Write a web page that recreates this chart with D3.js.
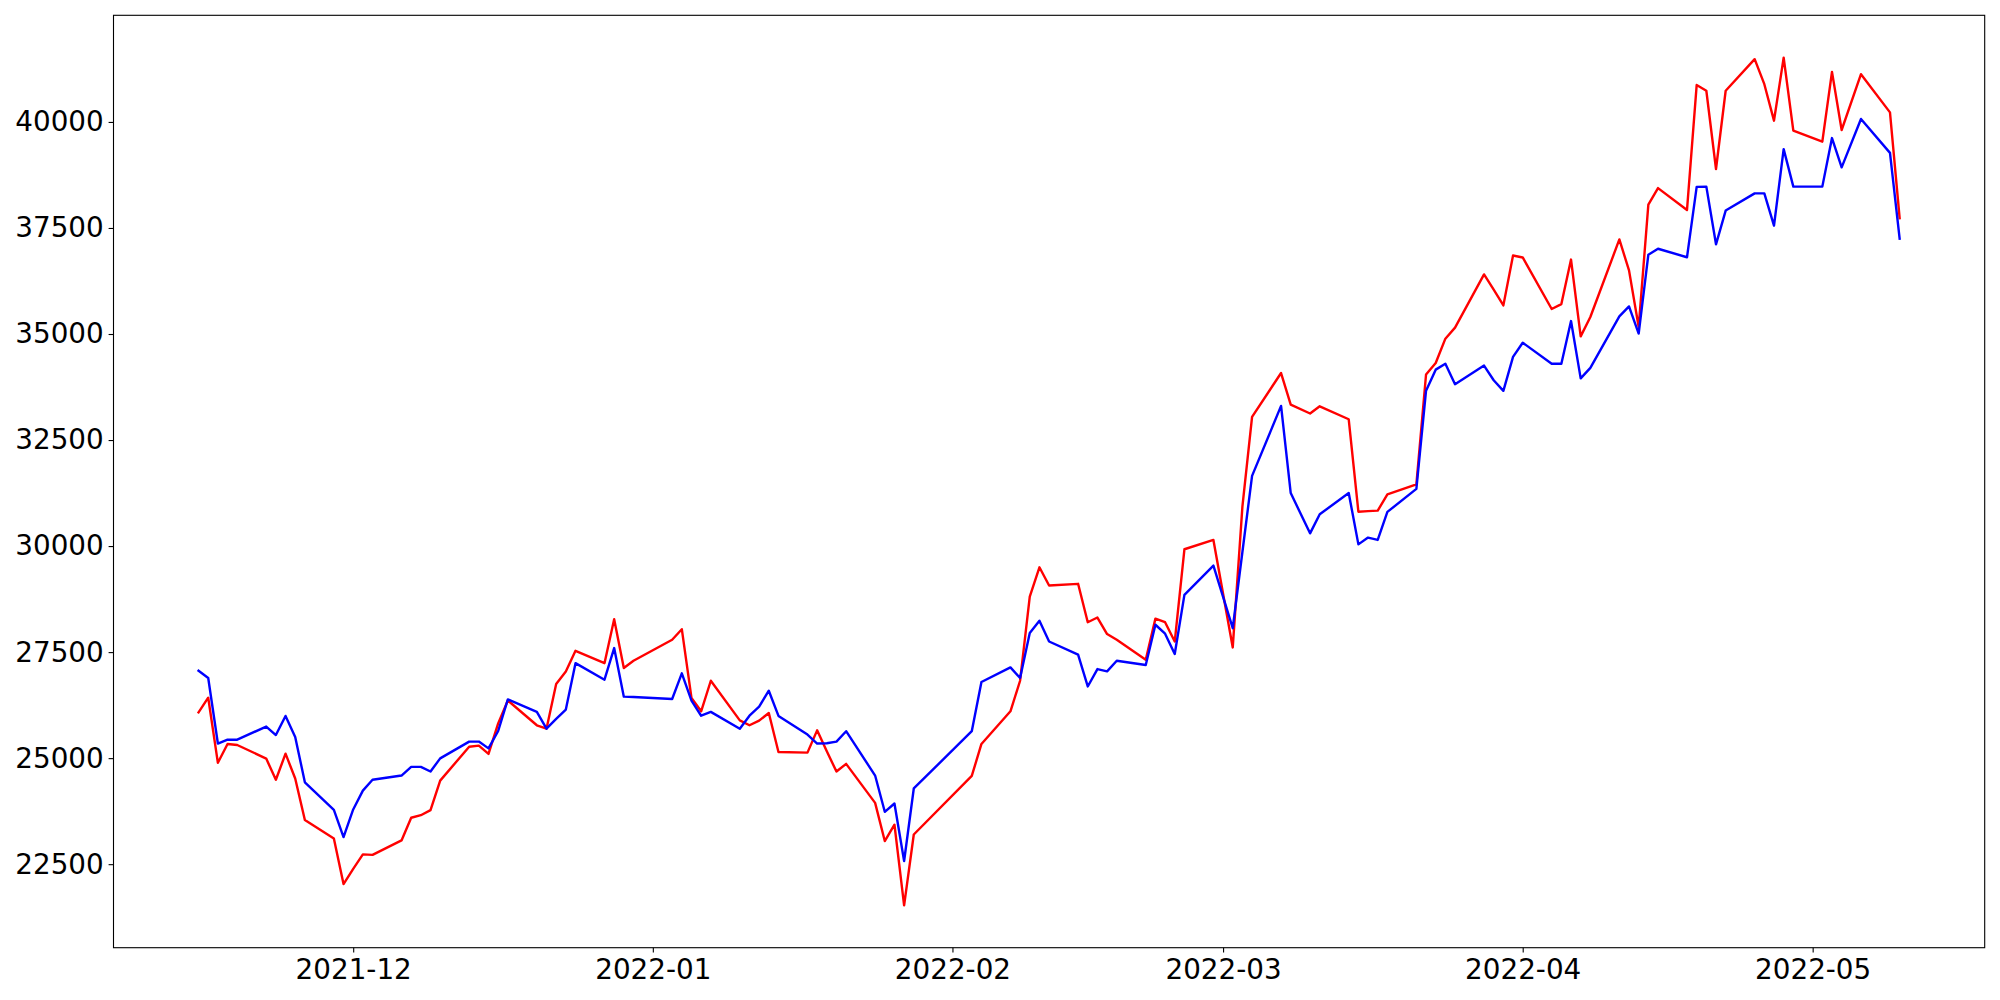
<!DOCTYPE html>
<html>
<head>
<meta charset="utf-8">
<script src="https://cdn.jsdelivr.net/npm/d3@7"></script>
<style>
  html, body { margin: 0; padding: 0; background: #fff; }
  svg { display: block; }
  text { font-family: "DejaVu Sans", sans-serif; }
</style>
</head>
<body>
<svg id="chart" width="2000" height="1000"></svg>
<script>
// ---- data ----
const dates = [
  "2021-11-15","2021-11-16","2021-11-17","2021-11-18","2021-11-19","2021-11-22","2021-11-23","2021-11-24","2021-11-25","2021-11-26","2021-11-29","2021-11-30",
  "2021-12-01","2021-12-02","2021-12-03","2021-12-06","2021-12-07","2021-12-08","2021-12-09","2021-12-10","2021-12-13","2021-12-14","2021-12-15","2021-12-16","2021-12-17","2021-12-20","2021-12-21","2021-12-22","2021-12-23","2021-12-24","2021-12-27","2021-12-28","2021-12-29","2021-12-30",
  "2022-01-03","2022-01-04","2022-01-05","2022-01-06","2022-01-07","2022-01-10","2022-01-11","2022-01-12","2022-01-13","2022-01-14","2022-01-17","2022-01-18","2022-01-19","2022-01-20","2022-01-21","2022-01-24","2022-01-25","2022-01-26","2022-01-27","2022-01-28",
  "2022-02-03","2022-02-04","2022-02-07","2022-02-08","2022-02-09","2022-02-10","2022-02-11","2022-02-14","2022-02-15","2022-02-16","2022-02-17","2022-02-18","2022-02-21","2022-02-22","2022-02-23","2022-02-24","2022-02-25","2022-02-28",
  "2022-03-02","2022-03-03","2022-03-04","2022-03-07","2022-03-08","2022-03-10","2022-03-11","2022-03-14","2022-03-15","2022-03-16","2022-03-17","2022-03-18","2022-03-21","2022-03-22","2022-03-23","2022-03-24","2022-03-25","2022-03-28","2022-03-29","2022-03-30","2022-03-31",
  "2022-04-01","2022-04-04","2022-04-05","2022-04-06","2022-04-07","2022-04-08","2022-04-11","2022-04-12","2022-04-13","2022-04-14","2022-04-15","2022-04-18","2022-04-19","2022-04-20","2022-04-21","2022-04-22","2022-04-25","2022-04-26","2022-04-27","2022-04-28","2022-04-29",
  "2022-05-02","2022-05-03","2022-05-04","2022-05-06","2022-05-09","2022-05-10"
];

const redValues = [
  26080,26425,24890,25335,25310,24990,24490,25105,24520,23540,23105,22030,
  22390,22730,22720,23060,23595,23655,23775,24470,25270,25295,25100,25820,26360,25775,25695,26750,27045,27530,27240,28275,27125,27295,
  27790,28040,26420,26105,26825,25890,25775,25885,26065,25145,25130,25655,25160,24685,24865,23945,23045,23430,21530,23200,
  24580,25335,26105,26825,28810,29500,29070,29110,28205,28315,27925,27790,27320,28290,28205,27750,29925,30145,
  27610,30930,33045,34080,33335,33125,33295,32990,30810,30825,30835,31220,31455,34045,34315,34890,35150,36405,36045,35675,36850,
  36805,35590,35705,36755,34945,35400,37230,36500,35165,38050,38440,37925,40870,40735,38890,40735,41480,40890,40030,41515,39795,
  39535,41180,39810,41125,40225,37730
];

const blueValues = [
  27060,26890,25345,25435,25435,25745,25545,25995,25500,24430,23780,23140,
  23790,24235,24490,24590,24795,24795,24685,24995,25390,25390,25230,25640,26385,26090,25695,25925,26145,27240,26850,27595,26450,26440,
  26395,27000,26355,26000,26090,25695,26000,26215,26590,25995,25555,25345,25350,25390,25635,24590,23735,23930,22575,24285,
  25635,26795,27140,26890,27950,28240,27750,27440,26690,27100,27045,27295,27195,28145,27935,27455,28850,29540,
  28065,29860,31655,33305,31250,30300,30750,31250,30040,30200,30145,30805,31350,33665,34160,34300,33815,34255,33910,33660,34460,
  34795,34300,34300,35305,33955,34200,35415,35650,35010,36870,37010,36810,38470,38475,37115,37910,38315,38315,37555,39360,38475,
  38475,39620,38930,40070,39270,37245
];

const yTicks = [22500, 25000, 27500, 30000, 32500, 35000, 37500, 40000];
const xTickDates = ["2021-12-01","2022-01-01","2022-02-01","2022-03-01","2022-04-01","2022-05-01"];
const xTickLabels = ["2021-12","2022-01","2022-02","2022-03","2022-04","2022-05"];

// ---- layout ----
const svg = d3.select("#chart");
const plot = { left: 113.5, right: 1984.7, top: 15.3, bottom: 947.7 };
const parse = d3.utcParse("%Y-%m-%d");
const dateObjs = dates.map(parse);

const red = dates.map((d, i) => ({ date: dateObjs[i], value: redValues[i] }));
const blue = dates.map((d, i) => ({ date: dateObjs[i], value: blueValues[i] }));

// 5% margins like matplotlib autoscale
const xExt = d3.extent(dateObjs);
const xPad = (xExt[1] - xExt[0]) * 0.05;
const x = d3.scaleUtc()
  .domain([new Date(+xExt[0] - xPad), new Date(+xExt[1] + xPad)])
  .range([plot.left, plot.right]);

const allVals = redValues.concat(blueValues);
const yExt = d3.extent(allVals);
const yPad = (yExt[1] - yExt[0]) * 0.05;
const y = d3.scaleLinear()
  .domain([yExt[0] - yPad, yExt[1] + yPad])
  .range([plot.bottom, plot.top]);

const line = d3.line().x(d => x(d.date)).y(d => y(d.value));

svg.append("rect").attr("width", 2000).attr("height", 1000).attr("fill", "#fff");

const g = svg.append("g");
g.append("path").datum(red)
  .attr("d", line).attr("fill", "none").attr("stroke", "#ff0000")
  .attr("stroke-width", 2.4).attr("stroke-linejoin", "round").attr("stroke-linecap", "square");
g.append("path").datum(blue)
  .attr("d", line).attr("fill", "none").attr("stroke", "#0000ff")
  .attr("stroke-width", 2.4).attr("stroke-linejoin", "round").attr("stroke-linecap", "square");

// frame
svg.append("rect")
  .attr("x", plot.left).attr("y", plot.top)
  .attr("width", plot.right - plot.left).attr("height", plot.bottom - plot.top)
  .attr("fill", "none").attr("stroke", "#000").attr("stroke-width", 1.1);

// axes
const fontSize = 27.8;
const xAxis = d3.axisBottom(x)
  .tickValues(xTickDates.map(parse))
  .tickFormat((d, i) => xTickLabels[i])
  .tickSize(4.9).tickPadding(7);
const gx = svg.append("g").attr("transform", `translate(0,${plot.bottom})`).call(xAxis);
gx.select(".domain").remove();
gx.selectAll(".tick line").attr("stroke", "#000").attr("stroke-width", 1.1);
gx.selectAll(".tick text").attr("fill", "#000")
  .style("font-family", "'DejaVu Sans', sans-serif").style("font-size", fontSize + "px");

const yAxis = d3.axisLeft(y)
  .tickValues(yTicks)
  .tickFormat(d3.format("d"))
  .tickSize(4.9).tickPadding(4.9);
const gy = svg.append("g").attr("transform", `translate(${plot.left},0)`).call(yAxis);
gy.select(".domain").remove();
gy.selectAll(".tick line").attr("stroke", "#000").attr("stroke-width", 1.1);
gy.selectAll(".tick text").attr("fill", "#000")
  .style("font-family", "'DejaVu Sans', sans-serif").style("font-size", fontSize + "px");
</script>
</body>
</html>
